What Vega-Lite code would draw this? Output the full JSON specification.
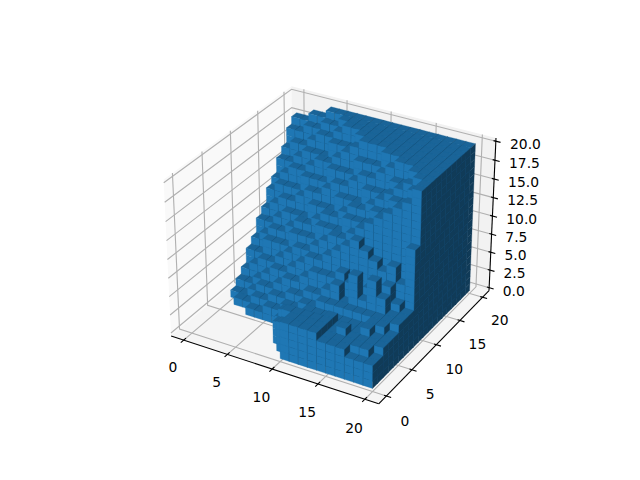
{"$schema":"https://vega.github.io/schema/vega-lite/v6.json","width":640,"height":480,"padding":0,"autosize":{"type":"fit","contains":"padding"},"background":"white","config":{"view":{"stroke":null}},
"data":{"values":[
{"k":"px","g":"px","o":0,"x":-1.458,"y":-1.458,"z":-0.417},{"k":"px","g":"px","o":1,"x":-1.458,"y":21.458,"z":-0.417},{"k":"px","g":"px","o":2,"x":-1.458,"y":21.458,"z":20.417},{"k":"px","g":"px","o":3,"x":-1.458,"y":-1.458,"z":20.417},
{"k":"py","g":"py","o":0,"x":-1.458,"y":21.458,"z":-0.417},{"k":"py","g":"py","o":1,"x":21.458,"y":21.458,"z":-0.417},{"k":"py","g":"py","o":2,"x":21.458,"y":21.458,"z":20.417},{"k":"py","g":"py","o":3,"x":-1.458,"y":21.458,"z":20.417},
{"k":"pz","g":"pz","o":0,"x":-1.458,"y":-1.458,"z":-0.417},{"k":"pz","g":"pz","o":1,"x":21.458,"y":-1.458,"z":-0.417},{"k":"pz","g":"pz","o":2,"x":21.458,"y":21.458,"z":-0.417},{"k":"pz","g":"pz","o":3,"x":-1.458,"y":21.458,"z":-0.417},
{"k":"g","g":"gx0","o":0,"x":0,"y":-1.458,"z":-0.417},{"k":"g","g":"gx0","o":1,"x":0,"y":21.458,"z":-0.417},{"k":"g","g":"gx0","o":2,"x":0,"y":21.458,"z":20.417},
{"k":"g","g":"gx5","o":0,"x":5,"y":-1.458,"z":-0.417},{"k":"g","g":"gx5","o":1,"x":5,"y":21.458,"z":-0.417},{"k":"g","g":"gx5","o":2,"x":5,"y":21.458,"z":20.417},
{"k":"g","g":"gx10","o":0,"x":10,"y":-1.458,"z":-0.417},{"k":"g","g":"gx10","o":1,"x":10,"y":21.458,"z":-0.417},{"k":"g","g":"gx10","o":2,"x":10,"y":21.458,"z":20.417},
{"k":"g","g":"gx15","o":0,"x":15,"y":-1.458,"z":-0.417},{"k":"g","g":"gx15","o":1,"x":15,"y":21.458,"z":-0.417},{"k":"g","g":"gx15","o":2,"x":15,"y":21.458,"z":20.417},
{"k":"g","g":"gx20","o":0,"x":20,"y":-1.458,"z":-0.417},{"k":"g","g":"gx20","o":1,"x":20,"y":21.458,"z":-0.417},{"k":"g","g":"gx20","o":2,"x":20,"y":21.458,"z":20.417},
{"k":"g","g":"gy0","o":0,"x":21.458,"y":0,"z":-0.417},{"k":"g","g":"gy0","o":1,"x":-1.458,"y":0,"z":-0.417},{"k":"g","g":"gy0","o":2,"x":-1.458,"y":0,"z":20.417},
{"k":"g","g":"gy5","o":0,"x":21.458,"y":5,"z":-0.417},{"k":"g","g":"gy5","o":1,"x":-1.458,"y":5,"z":-0.417},{"k":"g","g":"gy5","o":2,"x":-1.458,"y":5,"z":20.417},
{"k":"g","g":"gy10","o":0,"x":21.458,"y":10,"z":-0.417},{"k":"g","g":"gy10","o":1,"x":-1.458,"y":10,"z":-0.417},{"k":"g","g":"gy10","o":2,"x":-1.458,"y":10,"z":20.417},
{"k":"g","g":"gy15","o":0,"x":21.458,"y":15,"z":-0.417},{"k":"g","g":"gy15","o":1,"x":-1.458,"y":15,"z":-0.417},{"k":"g","g":"gy15","o":2,"x":-1.458,"y":15,"z":20.417},
{"k":"g","g":"gy20","o":0,"x":21.458,"y":20,"z":-0.417},{"k":"g","g":"gy20","o":1,"x":-1.458,"y":20,"z":-0.417},{"k":"g","g":"gy20","o":2,"x":-1.458,"y":20,"z":20.417},
{"k":"g","g":"gz0","o":0,"x":-1.458,"y":-1.458,"z":0},{"k":"g","g":"gz0","o":1,"x":-1.458,"y":21.458,"z":0},{"k":"g","g":"gz0","o":2,"x":21.458,"y":21.458,"z":0},
{"k":"g","g":"gz2","o":0,"x":-1.458,"y":-1.458,"z":2.5},{"k":"g","g":"gz2","o":1,"x":-1.458,"y":21.458,"z":2.5},{"k":"g","g":"gz2","o":2,"x":21.458,"y":21.458,"z":2.5},
{"k":"g","g":"gz5","o":0,"x":-1.458,"y":-1.458,"z":5},{"k":"g","g":"gz5","o":1,"x":-1.458,"y":21.458,"z":5},{"k":"g","g":"gz5","o":2,"x":21.458,"y":21.458,"z":5},
{"k":"g","g":"gz7","o":0,"x":-1.458,"y":-1.458,"z":7.5},{"k":"g","g":"gz7","o":1,"x":-1.458,"y":21.458,"z":7.5},{"k":"g","g":"gz7","o":2,"x":21.458,"y":21.458,"z":7.5},
{"k":"g","g":"gz10","o":0,"x":-1.458,"y":-1.458,"z":10},{"k":"g","g":"gz10","o":1,"x":-1.458,"y":21.458,"z":10},{"k":"g","g":"gz10","o":2,"x":21.458,"y":21.458,"z":10},
{"k":"g","g":"gz12","o":0,"x":-1.458,"y":-1.458,"z":12.5},{"k":"g","g":"gz12","o":1,"x":-1.458,"y":21.458,"z":12.5},{"k":"g","g":"gz12","o":2,"x":21.458,"y":21.458,"z":12.5},
{"k":"g","g":"gz15","o":0,"x":-1.458,"y":-1.458,"z":15},{"k":"g","g":"gz15","o":1,"x":-1.458,"y":21.458,"z":15},{"k":"g","g":"gz15","o":2,"x":21.458,"y":21.458,"z":15},
{"k":"g","g":"gz17","o":0,"x":-1.458,"y":-1.458,"z":17.5},{"k":"g","g":"gz17","o":1,"x":-1.458,"y":21.458,"z":17.5},{"k":"g","g":"gz17","o":2,"x":21.458,"y":21.458,"z":17.5},
{"k":"g","g":"gz20","o":0,"x":-1.458,"y":-1.458,"z":20},{"k":"g","g":"gz20","o":1,"x":-1.458,"y":21.458,"z":20},{"k":"g","g":"gz20","o":2,"x":21.458,"y":21.458,"z":20},
{"k":"a","g":"ax","o":0,"x":-1.458,"y":-1.458,"z":-0.417},{"k":"a","g":"ax","o":1,"x":21.458,"y":-1.458,"z":-0.417},
{"k":"a","g":"ay","o":0,"x":21.458,"y":-1.458,"z":-0.417},{"k":"a","g":"ay","o":1,"x":21.458,"y":21.458,"z":-0.417},
{"k":"a","g":"az","o":0,"x":21.458,"y":21.458,"z":-0.417},{"k":"a","g":"az","o":1,"x":21.458,"y":21.458,"z":20.417},
{"k":"a","g":"tx0","o":0,"x":0,"y":-1.058,"z":-0.417},{"k":"a","g":"tx0","o":1,"x":0,"y":-1.958,"z":-0.417},
{"k":"a","g":"tx5","o":0,"x":5,"y":-1.058,"z":-0.417},{"k":"a","g":"tx5","o":1,"x":5,"y":-1.958,"z":-0.417},
{"k":"a","g":"tx10","o":0,"x":10,"y":-1.058,"z":-0.417},{"k":"a","g":"tx10","o":1,"x":10,"y":-1.958,"z":-0.417},
{"k":"a","g":"tx15","o":0,"x":15,"y":-1.058,"z":-0.417},{"k":"a","g":"tx15","o":1,"x":15,"y":-1.958,"z":-0.417},
{"k":"a","g":"tx20","o":0,"x":20,"y":-1.058,"z":-0.417},{"k":"a","g":"tx20","o":1,"x":20,"y":-1.958,"z":-0.417},
{"k":"a","g":"ty0","o":0,"x":21.208,"y":0,"z":-0.417},{"k":"a","g":"ty0","o":1,"x":21.958,"y":0,"z":-0.417},
{"k":"a","g":"ty5","o":0,"x":21.208,"y":5,"z":-0.417},{"k":"a","g":"ty5","o":1,"x":21.958,"y":5,"z":-0.417},
{"k":"a","g":"ty10","o":0,"x":21.208,"y":10,"z":-0.417},{"k":"a","g":"ty10","o":1,"x":21.958,"y":10,"z":-0.417},
{"k":"a","g":"ty15","o":0,"x":21.208,"y":15,"z":-0.417},{"k":"a","g":"ty15","o":1,"x":21.958,"y":15,"z":-0.417},
{"k":"a","g":"ty20","o":0,"x":21.208,"y":20,"z":-0.417},{"k":"a","g":"ty20","o":1,"x":21.958,"y":20,"z":-0.417},
{"k":"a","g":"tz0","o":0,"x":21.208,"y":21.458,"z":0},{"k":"a","g":"tz0","o":1,"x":21.958,"y":21.458,"z":0},
{"k":"a","g":"tz2","o":0,"x":21.208,"y":21.458,"z":2.5},{"k":"a","g":"tz2","o":1,"x":21.958,"y":21.458,"z":2.5},
{"k":"a","g":"tz5","o":0,"x":21.208,"y":21.458,"z":5},{"k":"a","g":"tz5","o":1,"x":21.958,"y":21.458,"z":5},
{"k":"a","g":"tz7","o":0,"x":21.208,"y":21.458,"z":7.5},{"k":"a","g":"tz7","o":1,"x":21.958,"y":21.458,"z":7.5},
{"k":"a","g":"tz10","o":0,"x":21.208,"y":21.458,"z":10},{"k":"a","g":"tz10","o":1,"x":21.958,"y":21.458,"z":10},
{"k":"a","g":"tz12","o":0,"x":21.208,"y":21.458,"z":12.5},{"k":"a","g":"tz12","o":1,"x":21.958,"y":21.458,"z":12.5},
{"k":"a","g":"tz15","o":0,"x":21.208,"y":21.458,"z":15},{"k":"a","g":"tz15","o":1,"x":21.958,"y":21.458,"z":15},
{"k":"a","g":"tz17","o":0,"x":21.208,"y":21.458,"z":17.5},{"k":"a","g":"tz17","o":1,"x":21.958,"y":21.458,"z":17.5},
{"k":"a","g":"tz20","o":0,"x":21.208,"y":21.458,"z":20},{"k":"a","g":"tz20","o":1,"x":21.958,"y":21.458,"z":20},
{"k":"l","s":"0","x":0,"y":-3.458,"z":-2.917},{"k":"l","s":"5","x":5,"y":-3.458,"z":-2.917},{"k":"l","s":"10","x":10,"y":-3.458,"z":-2.917},{"k":"l","s":"15","x":15,"y":-3.458,"z":-2.917},{"k":"l","s":"20","x":20,"y":-3.458,"z":-2.917},
{"k":"l","s":"0","x":23.458,"y":0,"z":-3.1},{"k":"l","s":"5","x":23.458,"y":5,"z":-3.1},{"k":"l","s":"10","x":23.458,"y":10,"z":-3.1},{"k":"l","s":"15","x":23.458,"y":15,"z":-3.1},{"k":"l","s":"20","x":23.458,"y":20,"z":-3.1},
{"k":"lz","s":"0.0","x":22.958,"y":21.458,"z":0},{"k":"lz","s":"2.5","x":22.958,"y":21.458,"z":2.5},{"k":"lz","s":"5.0","x":22.958,"y":21.458,"z":5},{"k":"lz","s":"7.5","x":22.958,"y":21.458,"z":7.5},{"k":"lz","s":"10.0","x":22.958,"y":21.458,"z":10},{"k":"lz","s":"12.5","x":22.958,"y":21.458,"z":12.5},{"k":"lz","s":"15.0","x":22.958,"y":21.458,"z":15},{"k":"lz","s":"17.5","x":22.958,"y":21.458,"z":17.5},{"k":"lz","s":"20.0","x":22.958,"y":21.458,"z":20}
]},
"transform":[
{"calculate":"(datum.x-10)*0.051949","as":"px"},{"calculate":"(datum.y-10)*0.051949","as":"py"},{"calculate":"(datum.z-10)*0.04286","as":"pz"},
{"calculate":"10-(0.433013*datum.px-0.75*datum.py+0.5*datum.pz)","as":"dw"},
{"calculate":"(0.866025*datum.px+0.5*datum.py)/datum.dw","as":"sx"},
{"calculate":"(-0.25*datum.px+0.433013*datum.py+0.866025*datum.pz)/datum.dw","as":"sy"}],
"encoding":{"x":{"field":"sx","type":"quantitative","axis":null,"scale":{"domain":[-0.16668,0.15367],"nice":false,"zero":false}},"y":{"field":"sy","type":"quantitative","axis":null,"scale":{"domain":[-0.12147,0.11883],"nice":false,"zero":false}}},
"layer":[
{"transform":[{"filter":"datum.k=='px'||datum.k=='py'||datum.k=='pz'"}],"mark":{"type":"line","strokeWidth":0,"interpolate":"linear-closed"},"encoding":{"fill":{"field":"k","type":"nominal","legend":null,"scale":{"domain":["px","py","pz"],"range":["#f9f9f9","#f2f2f2","#f5f5f5"]}},"detail":{"field":"g"},"order":{"field":"o","type":"quantitative"}}},
{"transform":[{"filter":"datum.k=='g'"}],"mark":{"type":"line","stroke":"#b0b0b0","strokeWidth":1.11},"encoding":{"detail":{"field":"g"},"order":{"field":"o","type":"quantitative"}}},
{"transform":[{"filter":"datum.k=='a'"}],"mark":{"type":"line","stroke":"#000000","strokeWidth":1.11},"encoding":{"detail":{"field":"g"},"order":{"field":"o","type":"quantitative"}}},
{"transform":[{"filter":"datum.k=='l'"}],"mark":{"type":"text","font":"DejaVu Sans","fontSize":13.89,"align":"center","baseline":"middle","color":"#000000"},"encoding":{"text":{"field":"s"}}},
{"transform":[{"filter":"datum.k=='lz'"}],"mark":{"type":"text","font":"DejaVu Sans","fontSize":13.89,"align":"left","baseline":"middle","color":"#000000"},"encoding":{"text":{"field":"s"}}},
{"data":{"values":[
{"i":0,"j":19,"h":18},{"i":1,"j":19,"h":18},{"i":2,"j":19,"h":19},{"i":3,"j":19,"h":19},{"i":4,"j":19,"h":20},{"i":5,"j":19,"h":20},{"i":6,"j":19,"h":20},{"i":7,"j":19,"h":20},{"i":8,"j":19,"h":20},{"i":9,"j":19,"h":20},{"i":10,"j":19,"h":20},{"i":11,"j":19,"h":20},{"i":12,"j":19,"h":20},{"i":13,"j":19,"h":20},{"i":14,"j":19,"h":20},{"i":15,"j":19,"h":20},{"i":16,"j":19,"h":20},{"i":17,"j":19,"h":20},{"i":18,"j":19,"h":20},{"i":19,"j":19,"h":20},
{"i":0,"j":18,"h":17},{"i":1,"j":18,"h":17},{"i":2,"j":18,"h":18},{"i":3,"j":18,"h":18},{"i":4,"j":18,"h":19},{"i":5,"j":18,"h":19},{"i":6,"j":18,"h":20},{"i":7,"j":18,"h":20},{"i":8,"j":18,"h":20},{"i":9,"j":18,"h":20},{"i":10,"j":18,"h":20},{"i":11,"j":18,"h":20},{"i":12,"j":18,"h":20},{"i":13,"j":18,"h":20},{"i":14,"j":18,"h":20},{"i":15,"j":18,"h":20},{"i":16,"j":18,"h":20},{"i":17,"j":18,"h":20},{"i":18,"j":18,"h":20},{"i":19,"j":18,"h":20},
{"i":0,"j":17,"h":15},{"i":1,"j":17,"h":16},{"i":2,"j":17,"h":16},{"i":3,"j":17,"h":17},{"i":4,"j":17,"h":18},{"i":5,"j":17,"h":18},{"i":6,"j":17,"h":19},{"i":7,"j":17,"h":20},{"i":8,"j":17,"h":20},{"i":9,"j":17,"h":20},{"i":10,"j":17,"h":20},{"i":11,"j":17,"h":20},{"i":12,"j":17,"h":20},{"i":13,"j":17,"h":20},{"i":14,"j":17,"h":20},{"i":15,"j":17,"h":20},{"i":16,"j":17,"h":20},{"i":17,"j":17,"h":20},{"i":18,"j":17,"h":20},{"i":19,"j":17,"h":20},
{"i":0,"j":16,"h":14},{"i":1,"j":16,"h":14},{"i":2,"j":16,"h":15},{"i":3,"j":16,"h":16},{"i":4,"j":16,"h":16},{"i":5,"j":16,"h":16},{"i":6,"j":16,"h":18},{"i":7,"j":16,"h":18},{"i":8,"j":16,"h":18},{"i":9,"j":16,"h":20},{"i":10,"j":16,"h":20},{"i":11,"j":16,"h":20},{"i":12,"j":16,"h":20},{"i":13,"j":16,"h":20},{"i":14,"j":16,"h":20},{"i":15,"j":16,"h":20},{"i":16,"j":16,"h":20},{"i":17,"j":16,"h":20},{"i":18,"j":16,"h":20},{"i":19,"j":16,"h":20},
{"i":0,"j":15,"h":12},{"i":1,"j":15,"h":13},{"i":2,"j":15,"h":14},{"i":3,"j":15,"h":14},{"i":4,"j":15,"h":15},{"i":5,"j":15,"h":16},{"i":6,"j":15,"h":16},{"i":7,"j":15,"h":17},{"i":8,"j":15,"h":18},{"i":9,"j":15,"h":19},{"i":10,"j":15,"h":20},{"i":11,"j":15,"h":20},{"i":12,"j":15,"h":20},{"i":13,"j":15,"h":20},{"i":14,"j":15,"h":20},{"i":15,"j":15,"h":20},{"i":16,"j":15,"h":20},{"i":17,"j":15,"h":20},{"i":18,"j":15,"h":20},{"i":19,"j":15,"h":20},
{"i":0,"j":14,"h":11},{"i":1,"j":14,"h":12},{"i":2,"j":14,"h":12},{"i":3,"j":14,"h":12},{"i":4,"j":14,"h":14},{"i":5,"j":14,"h":14},{"i":6,"j":14,"h":14},{"i":7,"j":14,"h":16},{"i":8,"j":14,"h":16},{"i":9,"j":14,"h":16},{"i":10,"j":14,"h":18},{"i":11,"j":14,"h":18},{"i":12,"j":14,"h":18},{"i":13,"j":14,"h":20},{"i":14,"j":14,"h":20},{"i":15,"j":14,"h":20},{"i":16,"j":14,"h":20},{"i":17,"j":14,"h":20},{"i":18,"j":14,"h":20},{"i":19,"j":14,"h":20},
{"i":0,"j":13,"h":9},{"i":1,"j":13,"h":10},{"i":2,"j":13,"h":11},{"i":3,"j":13,"h":11},{"i":4,"j":13,"h":12},{"i":5,"j":13,"h":13},{"i":6,"j":13,"h":13},{"i":7,"j":13,"h":14},{"i":8,"j":13,"h":15},{"i":9,"j":13,"h":15},{"i":10,"j":13,"h":16},{"i":11,"j":13,"h":17},{"i":12,"j":13,"h":17},{"i":13,"j":13,"h":18},{"i":14,"j":13,"h":19},{"i":15,"j":13,"h":20},{"i":16,"j":13,"h":20},{"i":17,"j":13,"h":20},{"i":18,"j":13,"h":20},{"i":19,"j":13,"h":20},
{"i":0,"j":12,"h":8},{"i":1,"j":12,"h":8},{"i":2,"j":12,"h":9},{"i":3,"j":12,"h":10},{"i":4,"j":12,"h":10},{"i":5,"j":12,"h":10},{"i":6,"j":12,"h":12},{"i":7,"j":12,"h":12},{"i":8,"j":12,"h":12},{"i":9,"j":12,"h":14},{"i":10,"j":12,"h":14},{"i":11,"j":12,"h":14},{"i":12,"j":12,"h":16},{"i":13,"j":12,"h":16},{"i":14,"j":12,"h":16},{"i":15,"j":12,"h":18},{"i":16,"j":12,"h":18},{"i":17,"j":12,"h":20},{"i":18,"j":12,"h":20},{"i":19,"j":12,"h":20},
{"i":0,"j":11,"h":6},{"i":1,"j":11,"h":7},{"i":2,"j":11,"h":8},{"i":3,"j":11,"h":8},{"i":4,"j":11,"h":9},{"i":5,"j":11,"h":10},{"i":6,"j":11,"h":10},{"i":7,"j":11,"h":11},{"i":8,"j":11,"h":12},{"i":9,"j":11,"h":12},{"i":10,"j":11,"h":13},{"i":11,"j":11,"h":14},{"i":12,"j":11,"h":14},{"i":13,"j":11,"h":15},{"i":14,"j":11,"h":16},{"i":15,"j":11,"h":17},{"i":16,"j":11,"h":18},{"i":17,"j":11,"h":19},{"i":18,"j":11,"h":20},{"i":19,"j":11,"h":20},
{"i":0,"j":10,"h":5},{"i":1,"j":10,"h":5},{"i":2,"j":10,"h":7},{"i":3,"j":10,"h":7},{"i":4,"j":10,"h":7},{"i":5,"j":10,"h":9},{"i":6,"j":10,"h":9},{"i":7,"j":10,"h":9},{"i":8,"j":10,"h":11},{"i":9,"j":10,"h":11},{"i":10,"j":10,"h":11},{"i":11,"j":10,"h":13},{"i":12,"j":10,"h":13},{"i":13,"j":10,"h":13},{"i":14,"j":10,"h":15},{"i":15,"j":10,"h":15},{"i":16,"j":10,"h":17},{"i":17,"j":10,"h":17},{"i":18,"j":10,"h":19},{"i":19,"j":10,"h":20},
{"i":0,"j":9,"h":3},{"i":1,"j":9,"h":4},{"i":2,"j":9,"h":5},{"i":3,"j":9,"h":5},{"i":4,"j":9,"h":6},{"i":5,"j":9,"h":7},{"i":6,"j":9,"h":8},{"i":7,"j":9,"h":8},{"i":8,"j":9,"h":9},{"i":9,"j":9,"h":10},{"i":10,"j":9,"h":11},{"i":11,"j":9,"h":11},{"i":12,"j":9,"h":12},{"i":13,"j":9,"h":13},{"i":14,"j":9,"h":14},{"i":15,"j":9,"h":15},{"i":16,"j":9,"h":16},{"i":17,"j":9,"h":17},{"i":18,"j":9,"h":18},{"i":19,"j":9,"h":20},
{"i":0,"j":8,"h":2},{"i":1,"j":8,"h":2},{"i":2,"j":8,"h":3},{"i":3,"j":8,"h":4},{"i":4,"j":8,"h":5},{"i":5,"j":8,"h":5},{"i":6,"j":8,"h":6},{"i":7,"j":8,"h":7},{"i":8,"j":8,"h":8},{"i":9,"j":8,"h":8},{"i":10,"j":8,"h":9},{"i":11,"j":8,"h":10},{"i":12,"j":8,"h":11},{"i":13,"j":8,"h":12},{"i":14,"j":8,"h":11},{"i":15,"j":8,"h":10},{"i":16,"j":8,"h":9},{"i":17,"j":8,"h":10},{"i":18,"j":8,"h":8},{"i":19,"j":8,"h":13},
{"i":0,"j":7,"h":1},{"i":1,"j":7,"h":1},{"i":2,"j":7,"h":2},{"i":3,"j":7,"h":3},{"i":4,"j":7,"h":3},{"i":5,"j":7,"h":4},{"i":6,"j":7,"h":5},{"i":7,"j":7,"h":5},{"i":8,"j":7,"h":6},{"i":9,"j":7,"h":7},{"i":10,"j":7,"h":7},{"i":11,"j":7,"h":7},{"i":12,"j":7,"h":8},{"i":13,"j":7,"h":7},{"i":14,"j":7,"h":6},{"i":15,"j":7,"h":7},{"i":16,"j":7,"h":7},{"i":17,"j":7,"h":8},{"i":18,"j":7,"h":6},{"i":19,"j":7,"h":5},
{"i":1,"j":6,"h":1},{"i":2,"j":6,"h":1},{"i":3,"j":6,"h":2},{"i":4,"j":6,"h":2},{"i":5,"j":6,"h":3},{"i":6,"j":6,"h":3},{"i":7,"j":6,"h":4},{"i":8,"j":6,"h":4},{"i":9,"j":6,"h":5},{"i":10,"j":6,"h":5},{"i":11,"j":6,"h":6},{"i":12,"j":6,"h":7},{"i":13,"j":6,"h":5},{"i":14,"j":6,"h":9},{"i":15,"j":6,"h":6},{"i":16,"j":6,"h":9},{"i":17,"j":6,"h":7},{"i":18,"j":6,"h":5},{"i":19,"j":6,"h":5},
{"i":3,"j":5,"h":1},{"i":4,"j":5,"h":1},{"i":5,"j":5,"h":2},{"i":6,"j":5,"h":2},{"i":7,"j":5,"h":3},{"i":8,"j":5,"h":3},{"i":9,"j":5,"h":4},{"i":10,"j":5,"h":4},{"i":11,"j":5,"h":5},{"i":12,"j":5,"h":5},{"i":13,"j":5,"h":5},{"i":14,"j":5,"h":5},{"i":15,"j":5,"h":5},{"i":16,"j":5,"h":5},{"i":17,"j":5,"h":5},{"i":18,"j":5,"h":5},{"i":19,"j":5,"h":5},
{"i":7,"j":4,"h":2},{"i":8,"j":4,"h":3},{"i":9,"j":4,"h":3},{"i":10,"j":4,"h":4},{"i":11,"j":4,"h":4},{"i":12,"j":4,"h":4},{"i":13,"j":4,"h":4},{"i":14,"j":4,"h":4},{"i":15,"j":4,"h":4},{"i":16,"j":4,"h":4},{"i":17,"j":4,"h":5},{"i":18,"j":4,"h":5},{"i":19,"j":4,"h":4},
{"i":8,"j":3,"h":4},{"i":9,"j":3,"h":4},{"i":10,"j":3,"h":4},{"i":11,"j":3,"h":4},{"i":12,"j":3,"h":4},{"i":13,"j":3,"h":5},{"i":14,"j":3,"h":4},{"i":15,"j":3,"h":4},{"i":16,"j":3,"h":4},{"i":17,"j":3,"h":5},{"i":18,"j":3,"h":4},{"i":19,"j":3,"h":4},
{"i":8,"j":2,"h":3},{"i":9,"j":2,"h":5},{"i":10,"j":2,"h":5},{"i":11,"j":2,"h":5},{"i":12,"j":2,"h":5},{"i":13,"j":2,"h":5},{"i":14,"j":2,"h":4},{"i":15,"j":2,"h":5},{"i":16,"j":2,"h":4},{"i":17,"j":2,"h":4},{"i":18,"j":2,"h":4},{"i":19,"j":2,"h":4},
{"i":9,"j":1,"h":4},{"i":10,"j":1,"h":5},{"i":11,"j":1,"h":5},{"i":12,"j":1,"h":5},{"i":13,"j":1,"h":5},{"i":14,"j":1,"h":4},{"i":15,"j":1,"h":4},{"i":16,"j":1,"h":4},{"i":17,"j":1,"h":4},{"i":18,"j":1,"h":4},{"i":19,"j":1,"h":3},
{"i":10,"j":0,"h":5},{"i":11,"j":0,"h":5},{"i":12,"j":0,"h":5},{"i":13,"j":0,"h":5},{"i":14,"j":0,"h":4},{"i":15,"j":0,"h":4},{"i":16,"j":0,"h":4},{"i":17,"j":0,"h":3},{"i":18,"j":0,"h":3},{"i":19,"j":0,"h":3}
]},
"transform":[
{"calculate":"sequence(0,datum.h)","as":"lv"},{"flatten":["lv"]},
{"calculate":"datum.lv==datum.h-1?[0,1,2]:[1,2]","as":"f"},{"flatten":["f"]},
{"calculate":"[0,1,2,3]","as":"v"},{"flatten":["v"]},
{"calculate":"'c'+datum.i+'_'+datum.j+'_'+datum.lv+'_'+datum.f","as":"key"},
{"calculate":"datum.f==2?datum.i+1:datum.i+((datum.v==1||datum.v==2)?1:0)","as":"x"},
{"calculate":"datum.f==0?datum.j+((datum.v==2||datum.v==3)?1:0):(datum.f==1?datum.j:datum.j+((datum.v==1||datum.v==2)?1:0))","as":"y"},
{"calculate":"datum.f==0?datum.h:datum.lv+((datum.v==2||datum.v==3)?1:0)","as":"z"},
{"calculate":"(datum.x-10)*0.051949","as":"px"},{"calculate":"(datum.y-10)*0.051949","as":"py"},{"calculate":"(datum.z-10)*0.04286","as":"pz"},
{"calculate":"10-(0.433013*datum.px-0.75*datum.py+0.5*datum.pz)","as":"dw"},
{"calculate":"(0.866025*datum.px+0.5*datum.py)/datum.dw","as":"sx"},
{"calculate":"(-0.25*datum.px+0.433013*datum.py+0.866025*datum.pz)/datum.dw","as":"sy"},
{"calculate":"datum.f==0?'top':(datum.f==1?'front':'right')","as":"face"}],
"mark":{"type":"line","interpolate":"linear-closed","strokeWidth":0.3},
"encoding":{"fill":{"field":"face","type":"nominal","legend":null,"scale":{"domain":["top","front","right"],"range":["#1a6498","#1f77b4","#103b58"]}},"stroke":{"field":"face","type":"nominal","legend":null,"scale":{"domain":["top","front","right"],"range":["#195f90","#1e72ac","#103a57"]}},"detail":{"field":"key"},"order":{"field":"v","type":"quantitative"}}}
],
"resolve":{"scale":{"fill":"independent","stroke":"independent"}}}
